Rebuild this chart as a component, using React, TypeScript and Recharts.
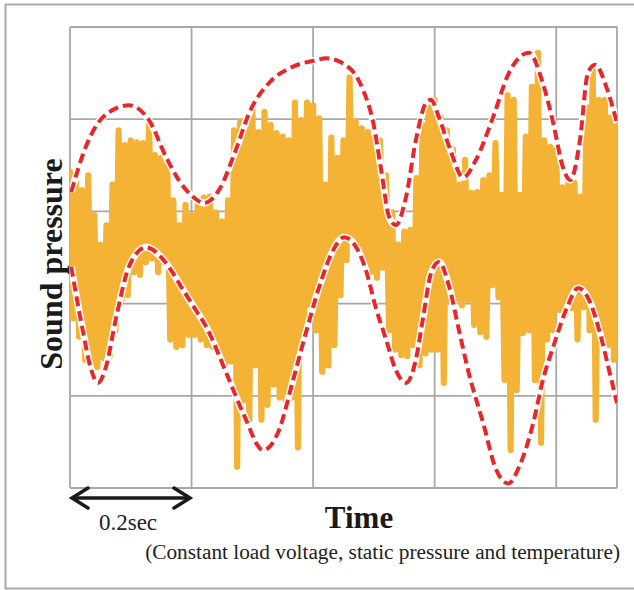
import { LineChart, Line, XAxis, YAxis, CartesianGrid } from "recharts";

// time step of the sampled envelope of the raw signal (sec)
const TIME_STEP = 0.01;

// upper / lower edge of the raw sound pressure trace, one pair per step
const signalHigh = [
    3.43, 3.31, 3.23, 3.39, 2.96, 2.64, 2.85, 3.29, 3.88, 3.72,
    3.77, 3.75, 3.74, 3.94, 3.61, 3.58, 3.50, 3.12, 2.85, 3.07,
    2.96, 3.07, 3.15, 3.16, 2.99, 2.89, 3.12, 3.88, 3.97, 3.90,
    4.15, 3.86, 4.08, 3.94, 3.85, 3.81, 3.77, 4.18, 3.99, 4.18,
    4.15, 4.01, 3.29, 3.80, 3.58, 3.77, 4.45, 3.97, 3.90, 3.86,
    3.80, 3.77, 3.39, 2.99, 2.64, 2.78, 2.80, 3.36, 3.94, 4.21,
    4.21, 4.02, 3.88, 3.67, 3.29, 3.56, 3.20, 3.21, 3.34, 3.39,
    3.74, 3.18, 4.26, 4.21, 3.18, 3.81, 4.35, 4.72, 3.77, 3.70,
    3.67, 3.26, 3.32, 3.31, 3.16, 4.13, 4.57, 4.21, 4.21, 4.02,
    3.94,
];
const signalLow = [
    1.84, 1.64, 1.39, 1.30, 1.31, 1.41, 1.42, 1.71, 2.04, 2.09,
    2.34, 2.31, 2.45, 2.49, 2.34, 2.45, 1.61, 1.53, 1.55, 1.66,
    1.66, 1.61, 1.55, 1.53, 1.44, 1.33, 1.37, 0.23, 0.95, 0.74,
    1.33, 0.74, 0.90, 1.12, 0.98, 0.95, 0.98, 0.44, 1.71, 1.98,
    1.71, 1.26, 1.33, 1.55, 2.09, 2.47, 2.69, 2.64, 2.45, 2.34,
    2.28, 2.39, 1.71, 1.50, 1.44, 1.43, 1.55, 1.33, 1.46, 1.50,
    1.50, 1.14, 2.04, 2.04, 1.98, 2.04, 1.77, 1.69, 1.64, 2.20,
    2.07, 1.17, 0.41, 1.06, 1.68, 1.71, 1.17, 0.49, 1.61, 1.71,
    1.93, 1.88, 1.95, 1.61, 1.96, 1.71, 0.74, 1.61, 1.55, 1.39,
];

// dashed envelope curves
const upperTime = [
    0.002, 0.026, 0.054, 0.097, 0.130, 0.158, 0.179, 0.204, 0.220, 0.245,
    0.273, 0.295, 0.327, 0.367, 0.405, 0.421, 0.459, 0.482, 0.499, 0.512,
    0.525, 0.536, 0.553, 0.569, 0.586, 0.594, 0.607, 0.624, 0.647, 0.668,
    0.696, 0.722, 0.755, 0.778, 0.795, 0.811, 0.823, 0.839, 0.852, 0.864,
    0.884, 0.900,
];
const upperLevel = [
    3.21, 3.70, 4.02, 4.15, 3.99, 3.59, 3.34, 3.15, 3.09, 3.23,
    3.67, 4.07, 4.39, 4.57, 4.64, 4.66, 4.56, 4.32, 3.96, 3.45,
    2.94, 2.85, 3.16, 3.77, 4.18, 4.21, 4.02, 3.70, 3.37, 3.56,
    4.02, 4.50, 4.72, 4.39, 3.96, 3.48, 3.34, 3.77, 4.50, 4.59,
    4.32, 3.96,
];
const lowerTime = [
    0.002, 0.021, 0.035, 0.046, 0.059, 0.076, 0.097, 0.125, 0.158, 0.186,
    0.207, 0.224, 0.257, 0.285, 0.318, 0.344, 0.367, 0.388, 0.410, 0.433,
    0.451, 0.471, 0.487, 0.503, 0.520, 0.536, 0.553, 0.569, 0.581, 0.594,
    0.607, 0.624, 0.640, 0.656, 0.680, 0.701, 0.721, 0.739, 0.762, 0.778,
    0.795, 0.818, 0.836, 0.856, 0.872, 0.888, 0.900,
];
const lowerLevel = [
    2.40, 1.71, 1.28, 1.14, 1.31, 1.85, 2.40, 2.61, 2.44, 2.15,
    1.93, 1.75, 1.25, 0.81, 0.41, 0.63, 1.17, 1.68, 2.18, 2.58,
    2.72, 2.61, 2.36, 1.96, 1.61, 1.28, 1.14, 1.39, 1.85, 2.33,
    2.45, 2.18, 1.71, 1.25, 0.70, 0.20, 0.05, 0.23, 0.70, 1.17,
    1.53, 1.96, 2.17, 2.01, 1.68, 1.25, 0.92,
];

const gridTimes = [0, 0.2, 0.4, 0.6, 0.8];
const gridLevels = [0, 1, 2, 3, 4, 5];

const signalData = signalHigh.flatMap((hi, i) => {
    const t = i * TIME_STEP;
    const pts = [{ t, p: hi }];
    if (i < signalLow.length) pts.push({ t: t + TIME_STEP / 2, p: signalLow[i] });
    return pts;
});
const upperData = upperTime.map((t, i) => ({ t, p: upperLevel[i] }));
const lowerData = lowerTime.map((t, i) => ({ t, p: lowerLevel[i] }));

const SERIF = "'Liberation Serif', 'Times New Roman', serif";
const ORANGE = "#f5b335";
const RED = "#e8262b";

export default function App() {
    return (
        <div style={{ position: "absolute", left: 0, top: 0, width: 634, height: 590, background: "#fff" }}>
            <svg width={634} height={590} style={{ position: "absolute", left: 0, top: 0 }}>
                <rect x={5.5} y={4.5} width={640} height={584} fill="none" stroke="#aaaaaa" strokeWidth={2} />
            </svg>
            <div style={{ position: "absolute", left: 0, top: 0 }}>
                <LineChart width={634} height={590} margin={{ top: 27, right: 17, bottom: 102, left: 70 }}>
                    <XAxis type="number" dataKey="t" domain={[0, 0.9]} ticks={gridTimes} allowDataOverflow hide />
                    <YAxis type="number" domain={[0, 5]} ticks={gridLevels} allowDataOverflow hide />
                    <CartesianGrid stroke="#a8a8a8" strokeWidth={1.8} />

                    <Line data={signalData} dataKey="p" type="linear" stroke={ORANGE} strokeWidth={6.2}
                        strokeLinejoin="round" strokeLinecap="round" dot={false} activeDot={false}
                        isAnimationActive={false} />

                    <Line data={upperData} dataKey="p" type="monotone" stroke="#fff" strokeWidth={7}
                        dot={false} activeDot={false} isAnimationActive={false} />
                    <Line data={upperData} dataKey="p" type="monotone" stroke={RED} strokeWidth={4}
                        strokeDasharray="10 5" dot={false} activeDot={false} isAnimationActive={false} />
                    <Line data={lowerData} dataKey="p" type="monotone" stroke="#fff" strokeWidth={7}
                        dot={false} activeDot={false} isAnimationActive={false} />
                    <Line data={lowerData} dataKey="p" type="monotone" stroke={RED} strokeWidth={4}
                        strokeDasharray="10 5" dot={false} activeDot={false} isAnimationActive={false} />
                </LineChart>
            </div>
            <svg width={634} height={590} style={{ position: "absolute", left: 0, top: 0, pointerEvents: "none" }}>
                {/* 0.2 sec scale bar */}
                <line x1={72} y1={498} x2={190} y2={498} stroke="#1a1a1a" strokeWidth={3.5} />
                <polyline points="88,488 72,498 88,508" fill="none" stroke="#1a1a1a" strokeWidth={3.5} strokeLinecap="round" />
                <polyline points="174,488 190,498 174,508" fill="none" stroke="#1a1a1a" strokeWidth={3.5} strokeLinecap="round" />
                <text x={128} y={530} textAnchor="middle" fontFamily={SERIF} fontSize={23} fill="#222">0.2sec</text>

                <text x={359} y={528} textAnchor="middle" fontFamily={SERIF} fontSize={31} fontWeight="bold" fill="#1a1a1a">Time</text>
                <text x={620} y={559} textAnchor="end" fontFamily={SERIF} fontSize={21.3} fill="#222">
                    (Constant load voltage, static pressure and temperature)
                </text>
                <text x={62} y={264} textAnchor="middle" fontFamily={SERIF} fontSize={32} fontWeight="bold" fill="#1a1a1a"
                    transform="rotate(-90 62 264)">Sound pressure</text>
            </svg>
        </div>
    );
}
